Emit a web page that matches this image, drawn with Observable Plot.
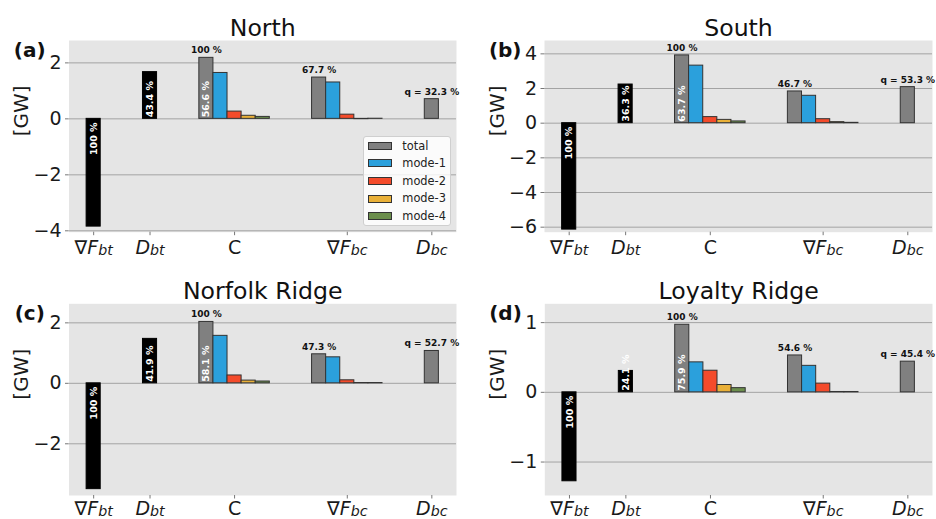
<!DOCTYPE html>
<html>
<head>
<meta charset="utf-8">
<script src="https://cdn.jsdelivr.net/npm/d3@7"></script>
<script src="https://cdn.jsdelivr.net/npm/@observablehq/plot@0.6"></script>
<style>
  body { margin: 0; background: #fff; font-family: "DejaVu Sans", sans-serif; }
  #fig { position: relative; width: 936px; height: 519px; overflow: hidden; background: #fff; }
  #fig svg { position: absolute; overflow: visible; }
  .legend {
    position: absolute; box-sizing: border-box;
    background: rgba(255,255,255,0.82); border: 1px solid #cfcfcf; border-radius: 3px;
    padding-top: 0.5px;
  }
  .legend .row { position: relative; height: 17.6px; }
  .legend .sw { position: absolute; left: 4px; top: 4.4px; width: 24px; height: 8px; box-sizing: border-box; border: 1px solid #333; }
  .legend .lb { position: absolute; left: 38px; top: 0; line-height: 17.6px; font-size: 11.4px; color: #222; }
</style>
</head>
<body>
<div id="fig"></div>
<script>
// ---- data (GW) ----
const regions = ["North", "South", "Norfolk Ridge", "Loyalty Ridge"];
const panelTags = ["(a)", "(b)", "(c)", "(d)"];
const terms = ["∇F_bt", "D_bt", "C", "∇F_bc", "D_bc"];
const series = ["total", "mode-1", "mode-2", "mode-3", "mode-4"];
const seriesColors = ["#808080", "#2ba0dc", "#f44b2b", "#e9b038", "#6b8e4c"];

// barotropic flux divergence and barotropic dissipation
const fluxDivBt = [-3.85, -6.14, -3.50, -1.276];
const dissBt = [1.67, 2.23, 1.47, 0.307];
// conversion C: total, mode-1 .. mode-4
const conversion = [
  [2.18, 1.64, 0.26, 0.11, 0.07],
  [3.91, 3.32, 0.35, 0.19, 0.10],
  [2.03, 1.57, 0.26, 0.09, 0.06],
  [0.969, 0.43, 0.31, 0.105, 0.06]
];
// baroclinic flux divergence: total, mode-1 .. mode-4
const fluxDivBc = [
  [1.476, 1.30, 0.15, -0.01, 0.005],
  [1.83, 1.58, 0.23, 0.06, 0.02],
  [0.96, 0.86, 0.10, 0.01, 0.01],
  [0.529, 0.38, 0.125, 0.005, 0.005]
];
// baroclinic (local) dissipation
const dissBc = [0.704, 2.08, 1.07, 0.44];

// shares in percent
const shareDbt = [43.4, 36.3, 41.9, 24.1];
const shareC = [56.6, 63.7, 58.1, 75.9];
const shareFbc = [67.7, 46.7, 47.3, 54.6];
const shareDbc = [32.3, 53.3, 52.7, 45.4];

const yTicks = [[-4, -2, 0, 2], [-6, -4, -2, 0, 2, 4], [-2, 0, 2], [-1, 0, 1]];
const yDomains = [[-4.05, 2.8], [-6.29, 4.77], [-3.71, 2.63], [-1.48, 1.27]];

// ---- layout ----
const slots = [0, 1, 2.5, 4.5, 6];      // centre of each term on the x axis
const barWidth = 0.25;
const xDomain = [-0.4375, 6.4375];
const panels = [
  {left: 0,   top: 0,   width: 468, height: 260, pad: 4.5, m: {top: 40,   right: 12, bottom: 28.3, left: 68.5}},
  {left: 468, top: 0,   width: 468, height: 260, pad: 4.5, m: {top: 40,   right: 4,  bottom: 28.3, left: 76}},
  {left: 0,   top: 260, width: 468, height: 259, pad: 2,   m: {top: 43.3, right: 12, bottom: 24,   left: 68.5}},
  {left: 468, top: 260, width: 468, height: 259, pad: 2,   m: {top: 43.3, right: 4,  bottom: 24,   left: 76.3}}
];

const termBySlot = new Map(slots.map((s, i) => [s, terms[i]]));
const minus = d => (d < 0 ? "\u2212" + Math.abs(d) : String(d));
const pct = v => v.toFixed(1) + " %";

// math-style tick label: italic symbols with italic subscript, plain text otherwise
function mathLabel(textEl, label) {
  const [main, sub] = label.split("_");
  textEl.textContent = "";
  const ns = "http://www.w3.org/2000/svg";
  for (const ch of main) {
    const t = document.createElementNS(ns, "tspan");
    t.textContent = ch;
    if (sub && /[A-Za-z]/.test(ch)) t.setAttribute("font-style", "italic");
    textEl.appendChild(t);
  }
  if (sub) {
    const s = document.createElementNS(ns, "tspan");
    s.textContent = sub;
    s.setAttribute("font-style", "italic");
    s.setAttribute("font-size", "0.75em");
    s.setAttribute("dy", "0.12em");
    textEl.appendChild(s);
  }
}

function panel(i) {
  const p = panels[i];
  const black = [
    {x: slots[0], v: fluxDivBt[i]},
    {x: slots[1], v: dissBt[i]}
  ];
  const colored = [];
  series.forEach((s, k) => colored.push({x: slots[2] + (k - 2) * barWidth, v: conversion[i][k], s}));
  series.forEach((s, k) => colored.push({x: slots[3] + (k - 2) * barWidth, v: fluxDivBc[i][k], s}));
  colored.push({x: slots[4], v: dissBc[i], s: series[0]});

  const topLabels = [
    {x: slots[2] - 2 * barWidth, v: conversion[i][0], t: "100 %"},
    {x: slots[3] - 2 * barWidth, v: fluxDivBc[i][0], t: pct(shareFbc[i])},
    {x: slots[4], v: dissBc[i], t: "q = " + pct(shareDbc[i])}
  ];
  const upLabels = [
    {x: slots[1], t: pct(shareDbt[i])},
    {x: slots[2] - 2 * barWidth, t: pct(shareC[i])}
  ];
  const downLabels = [{x: slots[0], t: "100 %"}];

  const svg = Plot.plot({
    width: p.width, height: p.height,
    marginTop: p.m.top, marginRight: p.m.right, marginBottom: p.m.bottom, marginLeft: p.m.left,
    style: {fontFamily: "DejaVu Sans", background: "transparent", overflow: "visible"},
    x: {type: "linear", domain: xDomain, axis: null},
    y: {domain: yDomains[i], axis: null},
    color: {domain: series, range: seriesColors},
    marks: [
      Plot.frame({fill: "#e5e5e5", stroke: null}),
      Plot.gridY(yTicks[i], {stroke: "#a3a3a3", strokeOpacity: 1, strokeWidth: 1}),
      Plot.rect(black, {x1: d => d.x - barWidth / 2, x2: d => d.x + barWidth / 2, y1: () => 0, y2: "v",
        fill: "black", stroke: "black", strokeWidth: 1}),
      Plot.rect(colored, {x1: d => d.x - barWidth / 2, x2: d => d.x + barWidth / 2, y1: () => 0, y2: "v",
        fill: "s", stroke: "#333", strokeWidth: 1}),
      Plot.text(topLabels, {x: "x", y: "v", text: "t", lineAnchor: "bottom", dy: -4.5,
        fontSize: 9, fontWeight: "bold", fill: "#111"}),
      Plot.text(upLabels, {x: "x", y: () => 0, text: "t", rotate: -90, textAnchor: "start", dy: -1.5,
        fontSize: 9.5, fontWeight: "bold", fill: "white"}),
      Plot.text(downLabels, {x: "x", y: () => 0, text: "t", rotate: -90, textAnchor: "end", dy: 3.5,
        fontSize: 9.5, fontWeight: "bold", fill: "white"}),
      Plot.axisY(yTicks[i], {tickSize: 3.5, tickPadding: 4, fontSize: 19, tickFormat: minus,
        stroke: "#777", fill: "#1a1a1a", label: null}),
      Plot.axisX(slots, {tickSize: 3.5, tickPadding: p.pad, fontSize: 19, tickFormat: d => termBySlot.get(d),
        stroke: "#777", fill: "#1a1a1a", label: null}),
      Plot.text(["[GW]"], {frameAnchor: "left", dx: -47, rotate: -90, fontSize: 20, fill: "#1a1a1a"}),
      Plot.text([regions[i]], {frameAnchor: "top", dy: -4.5, lineAnchor: "bottom", fontSize: 23.6, fill: "#111"}),
      Plot.text([panelTags[i]], {frameAnchor: "top-left", dx: -39.3, dy: 16, lineAnchor: "bottom",
        textAnchor: "middle", fontSize: 20, fontWeight: "bold", fill: "#111"})
    ]
  });
  svg.querySelectorAll('[aria-label="x-axis tick label"] text').forEach(t => mathLabel(t, t.textContent));
  svg.style.left = p.left + "px";
  svg.style.top = p.top + "px";
  return svg;
}

const fig = document.getElementById("fig");
for (let i = 0; i < regions.length; ++i) fig.appendChild(panel(i));

// legend for the mode breakdown, inside panel (a)
const legend = document.createElement("div");
legend.className = "legend";
Object.assign(legend.style, {left: "363.3px", top: "136px", width: "87.4px", height: "89.7px"});
series.forEach((s, k) => {
  const row = document.createElement("div");
  row.className = "row";
  const sw = document.createElement("div");
  sw.className = "sw";
  sw.style.background = seriesColors[k];
  const lb = document.createElement("div");
  lb.className = "lb";
  lb.textContent = s;
  row.appendChild(sw);
  row.appendChild(lb);
  legend.appendChild(row);
});
fig.appendChild(legend);
</script>
</body>
</html>
